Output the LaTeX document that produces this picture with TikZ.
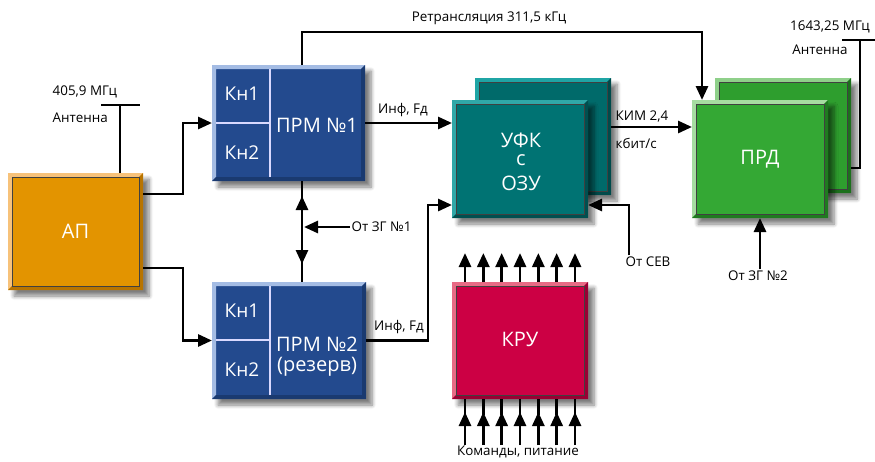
\documentclass[tikz,border=0pt]{standalone}
\usepackage{fontspec}
\setmainfont{Open Sans}
\usetikzlibrary{arrows.meta,shadows.blur}
\definecolor{apM}{HTML}{E39400}\definecolor{apL}{HTML}{F7C27A}\definecolor{apD}{HTML}{B87400}
\definecolor{blM}{HTML}{234A8E}\definecolor{blL}{HTML}{A4BCE4}\definecolor{blD}{HTML}{1A3A70}
\definecolor{tfM}{HTML}{007373}\definecolor{tfL}{HTML}{30A8A8}\definecolor{tfD}{HTML}{004F4F}
\definecolor{tbM}{HTML}{006A6A}\definecolor{tbL}{HTML}{1FA5A5}\definecolor{tbD}{HTML}{004A4A}
\definecolor{gfM}{HTML}{34A834}\definecolor{gfL}{HTML}{A6DCA1}\definecolor{gfD}{HTML}{1F7A1F}
\definecolor{gbM}{HTML}{2E9E2E}\definecolor{gbL}{HTML}{8FD08A}\definecolor{gbD}{HTML}{1C701C}
\definecolor{krM}{HTML}{CC0044}\definecolor{krL}{HTML}{E86A85}\definecolor{krD}{HTML}{990033}
\newcommand{\bevbox}[9]{%
  \node[boxbase, fill=#6, minimum width={(#4-#2)*1pt}, minimum height={(#5-#3)*1pt}] (#1) at ({(#2+#4)/2},{(#3+#5)/2}) {};
  \fill[#7] (#1.north west) -- (#1.north east) -- ([shift={(-4,4)}]#1.north east) -- ([shift={(4,4)}]#1.north west) -- ([shift={(4,-4)}]#1.south west) -- (#1.south west) -- cycle;
  \fill[#8] (#1.south east) -- (#1.north east) -- ([shift={(-4,4)}]#1.north east) -- ([shift={(-4,-4)}]#1.south east) -- ([shift={(4,-4)}]#1.south west) -- (#1.south west) -- cycle;
  \draw[#9] ([shift={(4,4)}]#1.north west) rectangle ([shift={(-4,-4)}]#1.south east);
}
\begin{document}
\begin{tikzpicture}[x=1pt,y=-1pt,
  boxbase/.style={draw=none, inner sep=0pt, outer sep=0pt,
    blur shadow={shadow xshift=6pt, shadow yshift=-6pt, shadow blur radius=4pt, shadow blur steps=6, shadow opacity=50}},
  ln/.style={line width=2.8pt},
  arr/.style={ln, -{Triangle[length=14pt,width=12pt]}},
  lbl/.style={font=\fontsize{13.4}{15}\selectfont, inner sep=1.5pt},
  big/.style={text=white, font=\fontsize{20}{23}\selectfont, inner sep=0pt, align=center},
  mid/.style={text=white, font=\fontsize{19}{22}\selectfont, inner sep=0pt},
  inl/.style={draw=black!75, line width=0.9pt},
  divl/.style={draw=white!85!blue, line width=1.2pt}]
\useasboundingbox (0,0) rectangle (875,461);

% boxes
\bevbox{ap}{8}{173}{143}{290}{apM}{apL}{apD}{inl}
\bevbox{prm1}{212}{65}{365}{181}{blM}{blL}{blD}{draw=none}
\bevbox{prm2}{212}{282}{366}{399}{blM}{blL}{blD}{draw=none}
\bevbox{ufkb}{475}{78}{611}{195}{tbM}{tbL}{tbD}{inl}
\bevbox{ufk}{452}{100}{588}{218}{tfM}{tfL}{tfD}{inl}
\bevbox{prdb}{715}{78}{851}{193}{gbM}{gbL}{gbD}{inl}
\bevbox{prd}{692}{100}{828}{218}{gfM}{gfL}{gfD}{inl}
\bevbox{kru}{452}{282}{588}{399}{krM}{krL}{krD}{inl}

% PRM dividers
\draw[divl] (270,69) -- (270,177);
\draw[divl] (216,123) -- (270,123);
\draw[divl] (270,286) -- (270,395);
\draw[divl] (216,340) -- (270,340);

% box texts
\node[big] (tap) at (ap) {АП};
\node[mid] (k11) at (242,94) {Кн1};
\node[mid] (k12) at (242,153) {Кн2};
\node[big] (tp1) at (317,125) {ПРМ №1};
\node[mid] (k21) at (242,311) {Кн1};
\node[mid] (k22) at (242,370) {Кн2};
\node[big] (tp2a) at (317,344) {ПРМ №2};
\node[big] (tp2b) at (317,367) {(резерв)};
\node[big] (tufk1) at (521,140) {УФК};
\node[big] (tufk2) at (521,160) {с};
\node[big] (tufk3) at (521,183) {ОЗУ};
\node[big] (tprd) at (760,159) {ПРД};
\node[big] (tkru) at (520,339) {КРУ};

% labels
\node[lbl, anchor=west] (f1) at (51,92) {405,9 МГц};
\node[lbl, anchor=west] (ant1) at (51,118) {Антенна};
\coordinate (antL) at (120,105);
\node[lbl] (inf1) at (403,110) {Инф, Fд};
\node[lbl] (inf2) at (399,327) {Инф, Fд};
\node[lbl] (ret) at (489,18) {Ретрансляция 311,5 кГц};
\node[lbl, anchor=west] (zg1) at (350,227) {От ЗГ №1};
\node[lbl, anchor=west] (kim) at (614,117) {КИМ 2,4};
\node[lbl, anchor=west] (kbit) at (614,143) {кбит/с};
\node[lbl] (sev) at (648,262) {От СЕВ};
\node[lbl] (zg2) at (758,276) {От ЗГ №2};
\node[lbl] (f2) at (830,27) {1643,25 МГц};
\node[lbl] (ant2) at (820,50) {Антенна};
\coordinate (antR) at (860,40);
\node[lbl] (cmd) at (518,452) {Команды, питание};
\coordinate (j1) at (302,227);

% antenna AP
\draw[ln] ([xshift=44.5pt]ap.north) -- (antL);
\draw[ln] ([xshift=-19pt]antL) -- ([xshift=20pt]antL);
% antenna PRD
\draw[ln] ([yshift=-32.5pt]prdb.east) -| (antR);
\draw[ln] ([xshift=-18pt]antR) -- ([xshift=16pt]antR);

% AP to PRMs
\draw[arr] ([yshift=37.5pt]ap.east) -| ([xshift=-29pt]prm1.west) -- (prm1.west);
\draw[arr] ([yshift=-36.5pt]ap.east) -| ([xshift=-29pt]prm2.west) -- (prm2.west);

% PRM to UFK
\draw[arr] (prm1.east) -- (prm1.east -| ufk.west);
\draw[arr] (prm2.east) -| ([shift={(-24,-13)}]ufk.south west) -- ([shift={(0,-13)}]ufk.south west);

% retranslation
\draw[arr] ([xshift=13.5pt]prm1.north) |- ([shift={(10,-68)}]prd.north west) -- ([xshift=10pt]prd.north west);

% PRM1 - PRM2 link
\draw[ln] ([xshift=13.5pt]prm1.south) -- ([xshift=13pt]prm2.north);
\draw[arr] (j1) -- ++(0,-31);
\draw[arr] (j1) -- ++(0,37);
\draw[arr] (zg1.west) -- ([xshift=2pt]j1);

% UFK to PRD
\draw[arr] ([yshift=9.5pt]ufkb.east) -- ([yshift=32pt]prd.west);
% SEV
\draw[arr] ([xshift=-19pt]sev.north) |- ([yshift=-46pt]ufk.east);
% ZG2
\draw[arr] ([xshift=2pt]zg2.north) -- (prd.south);

% KRU arrows
\foreach \d in {-55,-36.667,-18.333,0,18.333,36.667,55}{
  \draw[arr] ([xshift=\d pt]kru.north) -- ++(0,-29);
  \draw[ln] ([xshift=\d pt]kru.south) -- ++(0,16);
  \draw[arr] ([xshift=\d pt]kru.south) ++(0,46) -- ++(0,-33);
}
\end{tikzpicture}
\end{document}
